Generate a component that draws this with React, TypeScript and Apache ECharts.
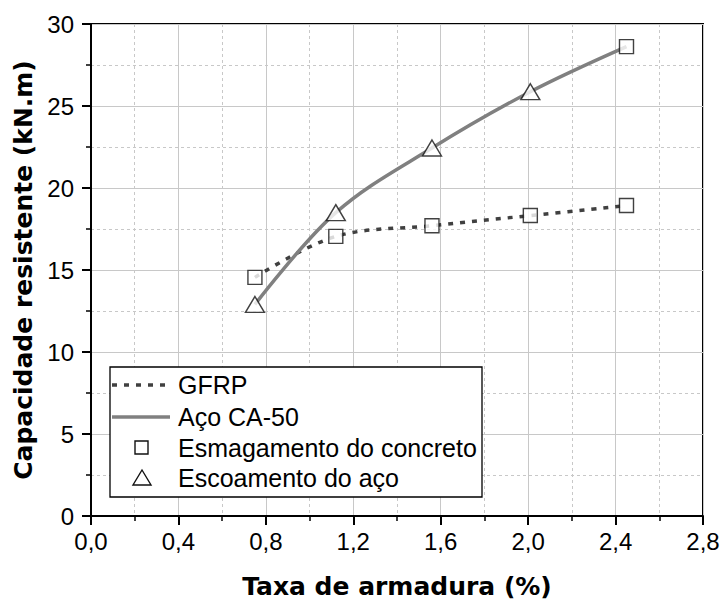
import React, { useEffect, useRef } from "react";
import * as echarts from "echarts";

const xValues = [0.75, 1.12, 1.56, 2.01, 2.45];
const gfrpValues = [14.55, 17.05, 17.7, 18.32, 18.93];
const steelValues = [12.9, 18.5, 22.44, 25.87, 28.62];
const gfrpFailure = ["crush", "crush", "crush", "crush", "crush"];
const steelFailure = ["yield", "yield", "yield", "yield", "crush"];
const xTicks = { min: 0, max: 2.8, interval: 0.4 };
const yTicks = { min: 0, max: 30, interval: 5 };
const legendLabels = ["GFRP", "Aço CA-50", "Esmagamento do concreto", "Escoamento do aço"];
const xTitle = "Taxa de armadura (%)";
const yTitle = "Capacidade resistente (kN.m)";

export default function App() {
  const ref = useRef<HTMLDivElement>(null);
  useEffect(() => {
    document.body.style.margin = "0";
    const chart = echarts.init(ref.current!, null, { renderer: "svg" });
    const gfrp = xValues.map((x, i) => [x, gfrpValues[i]]);
    const steel = xValues.map((x, i) => [x, steelValues[i]]);
    const crush: number[][] = [];
    const yieldPts: number[][] = [];
    xValues.forEach((x, i) => {
      if (gfrpFailure[i] === "crush") crush.push([x, gfrpValues[i]]);
      else yieldPts.push([x, gfrpValues[i]]);
      if (steelFailure[i] === "crush") crush.push([x, steelValues[i]]);
      else yieldPts.push([x, steelValues[i]]);
    });
    const tickFont = { fontFamily: "Liberation Sans", fontSize: 24, color: "#000" };
    const titleFont = { fontFamily: "DejaVu Sans", fontWeight: "bold" as const, fontSize: 25, color: "#000" };
    const markerStyle = { color: "#fff", borderColor: "#111", borderWidth: 1.4 };
    const lx = 110, ly = 367, lw = 372, lh = 130;
    const rowY = [385, 417, 448, 478];
    chart.setOption({
      animation: false,
      backgroundColor: "#fff",
      grid: { left: 91, right: 21, top: 24, bottom: 88, show: true, borderColor: "#000", borderWidth: 2, backgroundColor: "transparent" },
      xAxis: {
        type: "value",
        min: xTicks.min, max: xTicks.max, interval: xTicks.interval,
        name: xTitle, nameLocation: "middle", nameGap: 58, nameTextStyle: titleFont,
        axisLine: { show: true, onZero: false, lineStyle: { color: "#000", width: 2 } },
        axisTick: { show: true, inside: false, length: 9, lineStyle: { color: "#000", width: 2 } },
        minorTick: { show: true, splitNumber: 2, length: 5, lineStyle: { color: "#000", width: 1.5 } },
        axisLabel: { ...tickFont, margin: 13, formatter: (v: number) => v.toFixed(1).replace(".", ",") },
        splitLine: { show: true, lineStyle: { color: "#c8c8c8", width: 1 } },
        minorSplitLine: { show: true, lineStyle: { color: "#c8c8c8", width: 1, type: [3, 3] } },
      },
      yAxis: {
        type: "value",
        min: yTicks.min, max: yTicks.max, interval: yTicks.interval,
        name: yTitle, nameLocation: "middle", nameGap: 50, nameTextStyle: titleFont,
        axisLine: { show: true, onZero: false, lineStyle: { color: "#000", width: 2 } },
        axisTick: { show: true, inside: false, length: 9, lineStyle: { color: "#000", width: 2 } },
        minorTick: { show: true, splitNumber: 2, length: 5, lineStyle: { color: "#000", width: 1.5 } },
        axisLabel: { ...tickFont, margin: 17 },
        splitLine: { show: true, lineStyle: { color: "#c8c8c8", width: 1 } },
        minorSplitLine: { show: true, lineStyle: { color: "#c8c8c8", width: 1, type: [3, 3] } },
      },
      series: [
        {
          name: legendLabels[0], type: "line", data: gfrp, smooth: 0.35, symbol: "none",
          lineStyle: { color: "#404040", width: 3.5, type: [5, 7], cap: "butt" }, z: 2,
        },
        {
          name: legendLabels[1], type: "line", data: steel, smooth: 0.35, symbol: "none",
          lineStyle: { color: "#808080", width: 3.5 }, z: 2,
        },
        {
          name: legendLabels[2], type: "scatter", data: crush, symbol: "rect", symbolSize: 14,
          itemStyle: markerStyle, z: 5,
        },
        {
          name: legendLabels[3], type: "scatter", data: yieldPts, symbol: "triangle", symbolSize: [19, 16],
          itemStyle: markerStyle, z: 5,
        },
      ],
      graphic: [
        { type: "rect", z: 100, shape: { x: lx, y: ly, width: lw, height: lh }, style: { fill: "#fff", stroke: "#000", lineWidth: 1.3 } },
        { type: "line", z: 101, shape: { x1: 112, y1: rowY[0], x2: 170, y2: rowY[0] }, style: { stroke: "#404040", lineWidth: 3.5, lineDash: [5, 7] } },
        { type: "line", z: 101, shape: { x1: 112, y1: rowY[1], x2: 170, y2: rowY[1] }, style: { stroke: "#808080", lineWidth: 3.5 } },
        { type: "rect", z: 101, shape: { x: 135, y: rowY[2] - 7, width: 13, height: 13 }, style: { fill: "#fff", stroke: "#111", lineWidth: 1.4 } },
        { type: "polygon", z: 101, shape: { points: [[142, rowY[3] - 8], [151, rowY[3] + 7], [133, rowY[3] + 7]] }, style: { fill: "#fff", stroke: "#111", lineWidth: 1.4 } },
        ...legendLabels.map((t, i) => ({
          type: "text", z: 101, x: 178, y: rowY[i],
          style: { text: t, fontFamily: "Liberation Sans", fontSize: 25, fill: "#000", verticalAlign: "middle", align: "left" },
        })),
      ],
    });
    return () => chart.dispose();
  }, []);
  return <div ref={ref} style={{ width: 724, height: 604 }} />;
}
